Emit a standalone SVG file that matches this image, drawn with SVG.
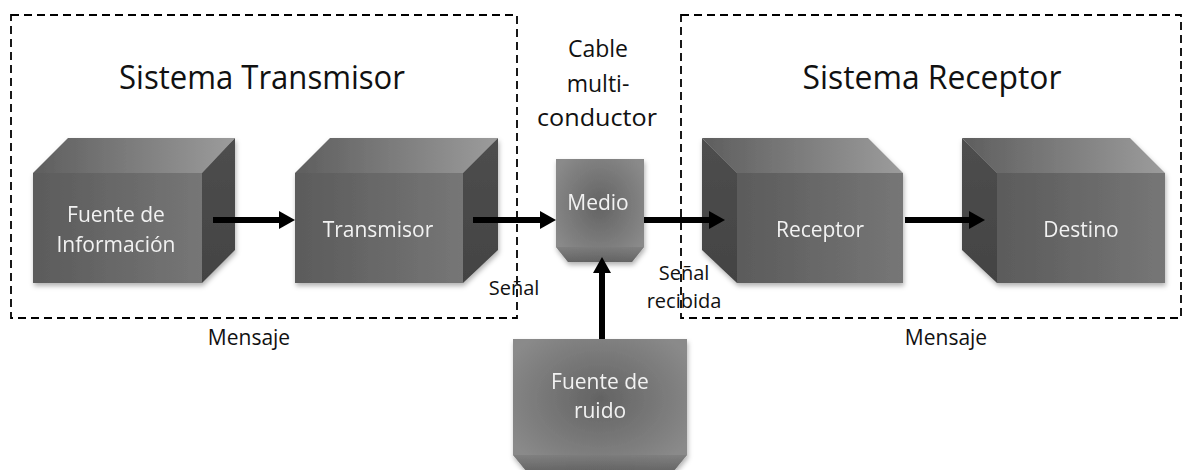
<svg xmlns="http://www.w3.org/2000/svg" width="1182" height="470" viewBox="0 0 1182 470">
<style>
.title{font-family:"Open Sans","Liberation Sans",sans-serif;font-size:33px;fill:#111}
.lbl{font-family:"Open Sans","Liberation Sans",sans-serif;font-size:20px;fill:#111}
.msg{font-family:"Open Sans","Liberation Sans",sans-serif;font-size:21px;fill:#111}
.cap{font-family:"Open Sans","Liberation Sans",sans-serif;font-size:23px;fill:#111}
.in{font-family:"Open Sans","Liberation Sans",sans-serif;font-size:21px;fill:#f2f2f2}
.dash{fill:none;stroke:#000;stroke-width:1.8;stroke-dasharray:8 5}
.conn{stroke:#000;stroke-width:6;fill:none;marker-end:url(#ah)}
.front{fill:url(#gFront)}
.top{fill:url(#gTop)}
.side{fill:url(#gSide)}
</style>
<defs>
<linearGradient id="gFront" x1="0" y1="0" x2="1" y2="0">
<stop offset="0" stop-color="#5b5b5b"/><stop offset="1" stop-color="#767676"/>
</linearGradient>
<linearGradient id="gTop" x1="0" y1="0" x2="1" y2="0">
<stop offset="0" stop-color="#5e5e5e"/><stop offset="1" stop-color="#9c9c9c"/>
</linearGradient>
<linearGradient id="gSide" x1="0" y1="0" x2="0" y2="1">
<stop offset="0" stop-color="#4e4e4e"/><stop offset="1" stop-color="#434343"/>
</linearGradient>
<radialGradient id="gBlob" cx="0.5" cy="0.45" r="0.6">
<stop offset="0" stop-color="#636363"/><stop offset="1" stop-color="#8a8a8a"/>
</radialGradient>
<linearGradient id="gBevel" x1="0" y1="0" x2="0" y2="1">
<stop offset="0" stop-color="#7a7a7a"/><stop offset="1" stop-color="#4a4a4a"/>
</linearGradient>
<filter id="sh" x="-10%" y="-10%" width="130%" height="130%">
<feDropShadow dx="1" dy="3" stdDeviation="2.5" flood-color="#000" flood-opacity="0.3"/>
</filter>
<marker id="ah" markerUnits="userSpaceOnUse" markerWidth="16" markerHeight="18" viewBox="0 0 16 18" refX="4" refY="9" orient="auto">
<path d="M0,0 L16,9 L0,18 Z" fill="#000"/>
</marker>
</defs>

<g id="sistema-transmisor">
<rect class="dash" x="11" y="15" width="506" height="303"/>
<text class="title" x="262" y="89" text-anchor="middle" textLength="286" lengthAdjust="spacingAndGlyphs">Sistema Transmisor</text>
<text class="msg" x="249" y="345" text-anchor="middle">Mensaje</text>
</g>
<g id="sistema-receptor">
<rect class="dash" x="681" y="15" width="500" height="303"/>
<text class="title" x="932" y="89" text-anchor="middle" textLength="259" lengthAdjust="spacingAndGlyphs">Sistema Receptor</text>
<text class="msg" x="946" y="345" text-anchor="middle">Mensaje</text>
</g>

<g id="fuente-informacion" filter="url(#sh)">
<polygon class="top" points="33,173 68,138 235,138 202,173"/>
<polygon class="side" points="202,173 235,138 235,250 202,283"/>
<rect class="front" x="33" y="173" width="169" height="110"/>
<text class="in" x="116" y="222" text-anchor="middle">Fuente de</text>
<text class="in" x="116" y="252" text-anchor="middle">Información</text>
</g>
<g id="transmisor" filter="url(#sh)">
<polygon class="top" points="295,173 330,138 498,138 463,173"/>
<polygon class="side" points="463,173 498,138 498,250 463,283"/>
<rect class="front" x="295" y="173" width="168" height="110"/>
<text class="in" x="378" y="237" text-anchor="middle">Transmisor</text>
</g>
<g id="medio" filter="url(#sh)">
<path d="M556,159 H644 V247 L632,262 H568 L556,247 Z" fill="url(#gBlob)"/>
<path d="M556,247 H644 L632,262 H568 Z" fill="url(#gBevel)" opacity="0.6"/>
<text class="in" x="598" y="210" text-anchor="middle">Medio</text>
</g>
<g id="cable-label">
<text class="cap" x="598" y="57" text-anchor="middle">Cable</text>
<text class="cap" x="598" y="92" text-anchor="middle">multi-</text>
<text class="cap" x="597" y="126" text-anchor="middle" textLength="120" lengthAdjust="spacingAndGlyphs">conductor</text>
</g>
<g id="receptor" filter="url(#sh)">
<polygon class="top" points="737,173 702,138 868,138 903,173"/>
<polygon class="side" points="737,173 702,138 702,250 737,283"/>
<rect class="front" x="737" y="173" width="166" height="110"/>
<text class="in" x="820" y="237" text-anchor="middle">Receptor</text>
</g>
<g id="destino" filter="url(#sh)">
<polygon class="top" points="997,173 962,138 1130,138 1165,173"/>
<polygon class="side" points="997,173 962,138 962,250 997,283"/>
<rect class="front" x="997" y="173" width="168" height="110"/>
<text class="in" x="1081" y="237" text-anchor="middle">Destino</text>
</g>
<g id="fuente-ruido" filter="url(#sh)">
<path d="M513,339 H687 V455 L673,472 H527 L513,455 Z" fill="url(#gBlob)"/>
<path d="M513,455 H687 L673,472 H527 Z" fill="url(#gBevel)" opacity="0.6"/>
<text class="in" x="600" y="389" text-anchor="middle">Fuente de</text>
<text class="in" x="600" y="418" text-anchor="middle">ruido</text>
</g>

<g id="connectors">
<line class="conn" x1="213" y1="220" x2="283" y2="220"/>
<line class="conn" x1="473" y1="220" x2="544" y2="220"/>
<line class="conn" x1="644" y1="220" x2="713" y2="220"/>
<line class="conn" x1="905" y1="220" x2="973" y2="220"/>
<line class="conn" x1="602" y1="339" x2="602" y2="269"/>
</g>
<g id="signal-labels">
<text class="lbl" x="514" y="295" text-anchor="middle">Señal</text>
<text class="lbl" x="684" y="280" text-anchor="middle">Señal</text>
<text class="lbl" x="684" y="308" text-anchor="middle">recibida</text>
</g>
</svg>
